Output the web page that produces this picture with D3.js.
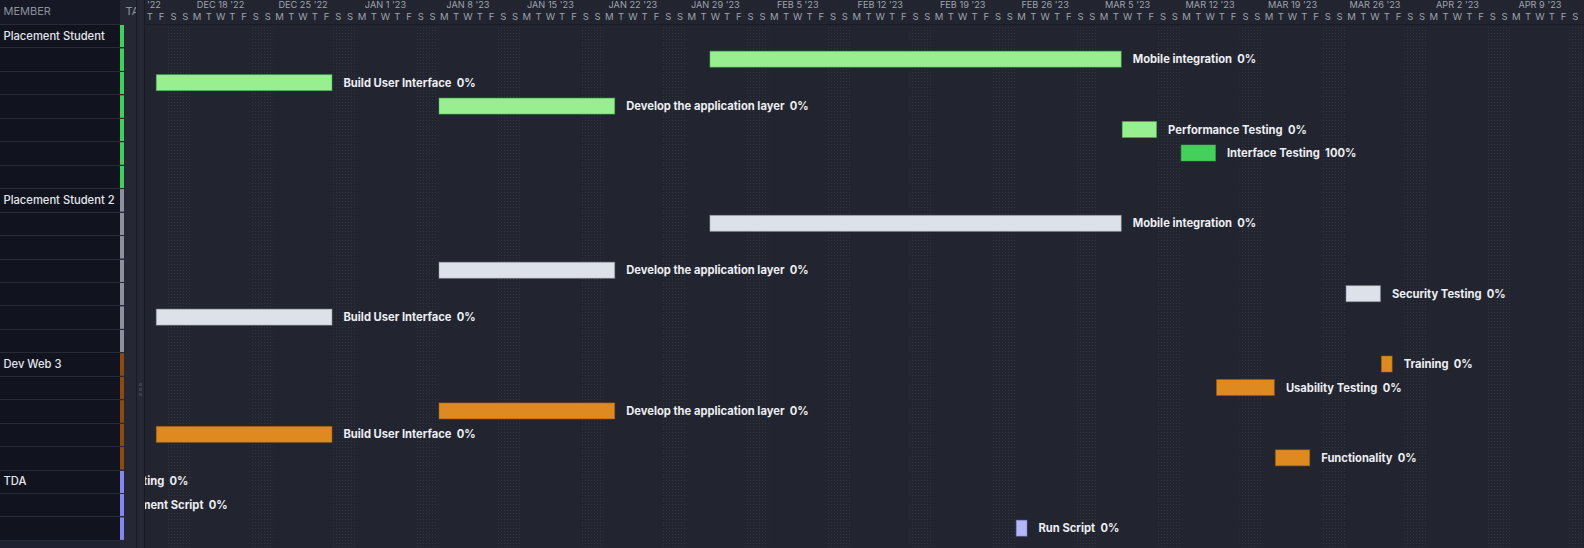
<!DOCTYPE html>
<html>
<head>
<meta charset="utf-8">
<script src="https://cdn.jsdelivr.net/npm/d3@7"></script>
<style>
  body { margin: 0; background: #22252f; overflow: hidden; font-family: Inter, "Noto Sans", sans-serif; }
  svg { display: block; }
</style>
</head>
<body>
<svg id="chart"></svg>
<script>
// members, one entry per grid row
const members = ["Placement Student", "Placement Student 2", "Dev Web 3", "TDA"];
const rowMembers = [
  "Placement Student", "Placement Student", "Placement Student", "Placement Student",
  "Placement Student", "Placement Student", "Placement Student",
  "Placement Student 2", "Placement Student 2", "Placement Student 2", "Placement Student 2",
  "Placement Student 2", "Placement Student 2", "Placement Student 2",
  "Dev Web 3", "Dev Web 3", "Dev Web 3", "Dev Web 3", "Dev Web 3",
  "TDA", "TDA", "TDA"
];

// tasks per row ("" = no task shown)
const taskNames = [
  "", "Mobile integration", "Build User Interface", "Develop the application layer",
  "Performance Testing", "Interface Testing", "",
  "", "Mobile integration", "", "Develop the application layer",
  "Security Testing", "Build User Interface", "",
  "Training", "Usability Testing", "Develop the application layer", "Build User Interface", "Functionality",
  "Testing", "Deployment Script", "Run Script"
];
const taskStarts = [
  null, "2023-02-01", "2022-12-16", "2023-01-09", "2023-03-08", "2023-03-13", null,
  null, "2023-02-01", null, "2023-01-09", "2023-03-27", "2022-12-16", null,
  "2023-03-30", "2023-03-16", "2023-01-09", "2022-12-16", "2023-03-21",
  "2022-12-05", "2022-12-01", "2023-02-27"
];
const taskEnds = [
  null, "2023-03-08", "2022-12-31", "2023-01-24", "2023-03-11", "2023-03-16", null,
  null, "2023-03-08", null, "2023-01-24", "2023-03-30", "2022-12-31", null,
  "2023-03-31", "2023-03-21", "2023-01-24", "2022-12-31", "2023-03-24",
  "2022-12-12T08:00:00Z", "2022-12-10T12:00:00Z", "2023-02-28"
];
const taskProgress = [
  0, 0, 0, 0, 0, 100, 0,
  0, 0, 0, 0, 0, 0, 0,
  0, 0, 0, 0, 0,
  0, 0, 0
];

const viewStart = "2022-12-15";
const viewEnd = "2023-04-17";
const dayLetters = ["S", "M", "T", "W", "T", "F", "S"];

// layout
const width = 1584, height = 548;
const headerH = 24;
const rowH = 23.45;
const memberW = 120, stripW = 4, timelineLeft = 144;
const dayWidth = 11.78;

const parse = d3.isoParse;
const t0 = parse(viewStart), t1 = parse(viewEnd);
const nDays = d3.utcDay.count(t0, t1);

const x = d3.scaleUtc()
  .domain([t0, t1])
  .range([timelineLeft, timelineLeft + nDays * dayWidth]);

const y = d3.scaleBand()
  .domain(d3.range(rowMembers.length))
  .range([headerH, headerH + rowMembers.length * rowH]);

const stripColor = d3.scaleOrdinal().domain(members)
  .range(["#42d05a", "#8d919d", "#8c4a12", "#8686f2"]);
const barColor = d3.scaleOrdinal().domain(members)
  .range(["#98ef8f", "#dde1ea", "#df8a21", "#b4b6f7"]);
const barDone = d3.scaleOrdinal().domain(members)
  .range(["#44d05a", "#aeb3bf", "#b86b12", "#8686f2"]);

const rows = rowMembers.map((m, i) => ({
  row: i,
  member: m,
  first: i === 0 || rowMembers[i - 1] !== m,
  name: taskNames[i],
  start: taskStarts[i] ? parse(taskStarts[i]) : null,
  end: taskEnds[i] ? parse(taskEnds[i]) : null,
  progress: taskProgress[i]
}));

const svg = d3.select("#chart").attr("width", width).attr("height", height);

const defs = svg.append("defs");
const pat = defs.append("pattern")
  .attr("id", "dots").attr("width", 3).attr("height", 3)
  .attr("patternUnits", "userSpaceOnUse");
pat.append("rect").attr("width", 1).attr("height", 1).attr("fill", "#31353f");

defs.append("clipPath").attr("id", "tlclip")
  .append("rect").attr("x", timelineLeft + 1).attr("y", 0)
  .attr("width", width - timelineLeft).attr("height", height);

// backgrounds
svg.append("rect").attr("width", width).attr("height", height).attr("fill", "#22252f");
svg.append("rect").attr("x", 0).attr("y", 0).attr("width", memberW).attr("height", height).attr("fill", "#1e2130");
svg.append("rect").attr("x", 0).attr("y", 0).attr("width", memberW).attr("height", headerH).attr("fill", "#161925");
svg.append("rect").attr("x", 0).attr("y", headerH).attr("width", memberW)
  .attr("height", rowMembers.length * rowH).attr("fill", "#11141f");
svg.append("rect").attr("x", memberW).attr("y", 0).attr("width", timelineLeft - memberW)
  .attr("height", height).attr("fill", "#252834");

// timeline
const tl = svg.append("g").attr("clip-path", "url(#tlclip)");
const days = d3.utcDay.range(t0, t1);

tl.selectAll("rect.weekend")
  .data(days.filter(d => d.getUTCDay() === 0 || d.getUTCDay() === 6))
  .join("rect")
  .attr("class", "weekend")
  .attr("x", d => x(d))
  .attr("y", headerH + 1)
  .attr("width", dayWidth)
  .attr("height", height - headerH)
  .attr("fill", "url(#dots)");

const weeks = d3.utcSunday.range(d3.utcSunday.floor(t0), t1);
const fmtWeek = d3.utcFormat("%b %-d '%y");
tl.selectAll("text.week")
  .data(weeks)
  .join("text")
  .attr("class", "week")
  .attr("x", d => (x(d) + x(d3.utcDay.offset(d, 7))) / 2)
  .attr("y", 7.5)
  .attr("text-anchor", "middle")
  .attr("fill", "#9ea3ae")
  .attr("font-size", 9.2)
  .text(d => fmtWeek(d).toUpperCase());

tl.selectAll("text.day")
  .data(days)
  .join("text")
  .attr("class", "day")
  .attr("x", d => x(d) + dayWidth / 2)
  .attr("y", 20)
  .attr("text-anchor", "middle")
  .attr("fill", "#9ea3ae")
  .attr("font-size", 9.5)
  .text(d => dayLetters[d.getUTCDay()]);

svg.append("line")
  .attr("x1", timelineLeft).attr("x2", width)
  .attr("y1", headerH + 0.5).attr("y2", headerH + 0.5)
  .attr("stroke", "#1a1c25");

// bars
const tasks = rows.filter(r => r.start);
const bh = 16;
const bars = tl.selectAll("g.task").data(tasks).join("g").attr("class", "task");

bars.append("rect")
  .attr("x", d => x(d.start) + 0.5)
  .attr("y", d => y(d.row) + (rowH - bh) / 2)
  .attr("width", d => x(d.end) - x(d.start) - 1)
  .attr("height", bh)
  .attr("fill", d => d.progress >= 100 ? barDone(d.member) : barColor(d.member))
  .attr("stroke", d => d3.color(barDone(d.member)).darker(0.4))
  .attr("stroke-opacity", 0.5)
  .attr("stroke-width", 1);

bars.append("text")
  .attr("x", d => x(d.end) + 11)
  .attr("y", d => y(d.row) + rowH / 2)
  .attr("dy", "0.36em")
  .attr("fill", "#eceef3")
  .attr("font-size", 11.2)
  .attr("font-weight", 700)
  .text(d => d.name + "\u00a0\u00a0" + d.progress + "%");

// member column
svg.selectAll("rect.strip")
  .data(rows)
  .join("rect")
  .attr("class", "strip")
  .attr("x", memberW)
  .attr("y", d => y(d.row) + 1)
  .attr("width", stripW)
  .attr("height", rowH - 1)
  .attr("fill", d => stripColor(d.member));

svg.selectAll("line.rowline")
  .data(d3.range(rowMembers.length + 1))
  .join("line")
  .attr("class", "rowline")
  .attr("x1", 0).attr("x2", memberW + stripW)
  .attr("y1", i => Math.round(headerH + i * rowH) + 0.5)
  .attr("y2", i => Math.round(headerH + i * rowH) + 0.5)
  .attr("stroke", "#272b38");

svg.selectAll("text.member")
  .data(rows.filter(r => r.first))
  .join("text")
  .attr("class", "member")
  .attr("x", 3.5)
  .attr("y", d => y(d.row) + rowH / 2)
  .attr("dy", "0.36em")
  .attr("fill", "#e4e6ec")
  .attr("font-size", 11.2)
  .attr("font-weight", 500)
  .text(d => d.member);

// header texts
svg.append("text").attr("x", 3.5).attr("y", 14.5).attr("fill", "#8b909b")
  .attr("font-size", 11).text("MEMBER");
const taClip = defs.append("clipPath").attr("id", "taclip");
taClip.append("rect").attr("x", memberW).attr("y", 0).attr("width", 136 - memberW).attr("height", headerH);
svg.append("text").attr("x", 125.5).attr("y", 14.5).attr("fill", "#8b909b")
  .attr("font-size", 11).attr("clip-path", "url(#taclip)").text("TASK");

// splitter
svg.append("line").attr("x1", 136.5).attr("x2", 136.5).attr("y1", 0).attr("y2", height)
  .attr("stroke", "#191b24");
svg.append("line").attr("x1", timelineLeft + 0.5).attr("x2", timelineLeft + 0.5).attr("y1", 0).attr("y2", height)
  .attr("stroke", "#191b24");
svg.selectAll("rect.handle")
  .data([0, 1, 2])
  .join("rect")
  .attr("class", "handle")
  .attr("x", 139).attr("y", i => 383 + i * 5)
  .attr("width", 3).attr("height", 3)
  .attr("fill", "#3b3f4b");
</script>
</body>
</html>
